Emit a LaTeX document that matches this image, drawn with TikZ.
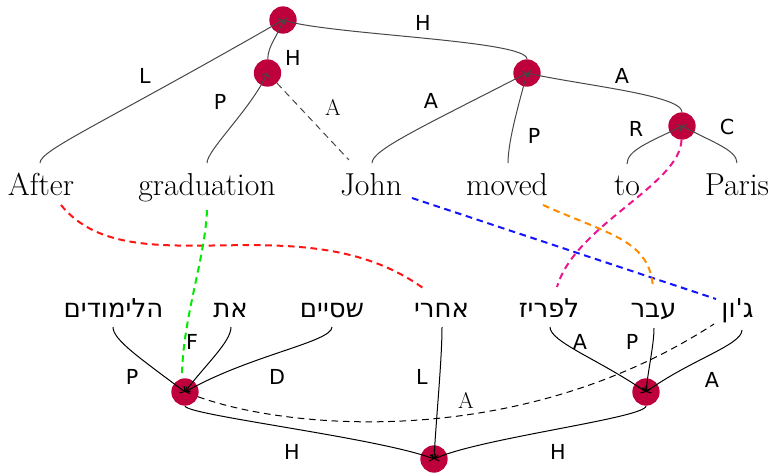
\documentclass[tikz,border=0pt]{standalone}
\usepackage{fontspec}
\usetikzlibrary{arrows.meta}
\TeXXeTstate=1
\newfontfamily\hebfont[Script=Hebrew]{DejaVu Sans}
\newfontfamily\labfont{DejaVu Sans}
\definecolor{unitcol}{RGB}{190,0,60}
\definecolor{alred}{RGB}{255,20,20}
\definecolor{algreen}{RGB}{0,235,0}
\definecolor{alblue}{RGB}{20,20,255}
\definecolor{alorange}{RGB}{255,140,0}
\definecolor{alpink}{RGB}{235,20,140}
\begin{document}
\begin{tikzpicture}[x=0.75pt,y=-0.75pt,
  unit/.style={circle, fill=unitcol, inner sep=0pt, minimum size=20.5pt},
  en/.style={font=\fontsize{23.8}{28}\selectfont, anchor=base, inner sep=0pt},
  he/.style={font=\hebfont\fontsize{19.5}{23}\selectfont, anchor=base, inner sep=0pt},
  lab/.style={font=\labfont\fontsize{15.5}{18}\selectfont, inner sep=0pt},
  rlab/.style={font=\fontsize{17}{20}\selectfont, inner sep=0pt},
  tip/.style={-{Straight Barb[length=2.5pt,width=6pt]}},
  edgeT/.style={draw=black!72, line width=0.75pt, tip},
  edgeB/.style={draw=black, line width=0.75pt, tip},
  remote/.style={draw=black!72, line width=0.75pt, dash pattern=on 5pt off 3.5pt},
  align/.style={line width=1.5pt, dash pattern=on 5pt off 3.5pt}]
\useasboundingbox (0,0) rectangle (771,472);

% ---------- top (English) units ----------
\node[unit] (root) at (283,20) {};
\node[unit] (n2) at (267.5,73) {};
\node[unit] (n3) at (527,73) {};
\node[unit] (n4) at (682,126) {};

% English words
\node[en] (after) at (41,195) {After};
\node[en] (grad) at (207,195) {graduation};
\node[en] (john) at (371,195) {John};
\node[en] (moved) at (507,195) {moved};
\node[en] (to) at (627,195) {to};
\node[en] (paris) at (737,195) {Paris};

% edge ends at English words
\coordinate (a1) at (40,163);
\coordinate (g1) at (207,163);
\coordinate (j1) at (372,163);
\coordinate (j2) at (349,160);
\coordinate (m1) at (508,163);
\coordinate (t1) at (627,164);
\coordinate (p1) at (737,163);

% ---------- bottom (Hebrew) units ----------
\node[unit] (bl) at (185,392) {};
\node[unit] (br) at (646,392) {};
\node[unit] (bot) at (434,459) {};

\node[he] (hlimudim) at (113.5,317) {\beginR הלימודים\endR};
\node[he] (et) at (230.5,317) {\beginR את\endR};
\node[he] (ssiyem) at (332,317) {\beginR שסיים\endR};
\node[he] (ahre) at (441.5,317) {\beginR אחרי\endR};
\node[he] (lparis) at (549,317) {\beginR לפריז\endR};
\node[he] (avar) at (653.5,317) {\beginR עבר\endR};
\node[he] (jon) at (737.5,317) {\beginR ג'ון\endR};

\coordinate (h1) at (113,327);
\coordinate (e1) at (231,327);
\coordinate (s1) at (332,327);
\coordinate (ah1) at (442,327);
\coordinate (lp1) at (550,327);
\coordinate (av1) at (654,328);
\coordinate (gj1) at (742,330);
\coordinate (gj2) at (714,324);

% ---------- top edges ----------
\draw[edgeT] (a1) .. controls (40,150) and (100,125) .. (root.center);
\draw[edgeT] (n2) .. controls (268,45) and (278,36) .. (root.center);
\draw[edgeT] (n3) .. controls (527,40) and (330,35) .. (root.center);
\draw[edgeT] (g1) .. controls (207,150) and (250,110) .. (n2.center);
\draw[remote] (n2) -- (j2);
\draw[edgeT] (j1) .. controls (372,150) and (420,128) .. (n3.center);
\draw[edgeT] (m1) .. controls (508,140) and (520,100) .. (n3.center);
\draw[edgeT] (n4) .. controls (682,95) and (580,85) .. (n3.center);
\draw[edgeT] (t1) .. controls (627,150) and (650,142) .. (n4.center);
\draw[edgeT] (p1) .. controls (737,150) and (712,142) .. (n4.center);

% top labels
\node[lab] (lL) at (145,76) {L};
\node[lab] (lH1) at (293,58) {H};
\node[lab] (lP1) at (220,102) {P};
\node[rlab] (lA1) at (333,107) {A};
\node[lab] (lH2) at (423,23) {H};
\node[lab] (lA2) at (431,101) {A};
\node[lab] (lP2) at (534,136) {P};
\node[lab] (lA3) at (622,76) {A};
\node[lab] (lR) at (636,129) {R};
\node[lab] (lC) at (727,127) {C};

% ---------- bottom edges ----------
\draw[edgeB] (h1) .. controls (113,340) and (140,358) .. (bl.center);
\draw[edgeB] (e1) .. controls (231,342) and (205,365) .. (bl.center);
\draw[edgeB] (s1) .. controls (332,342) and (250,355) .. (bl.center);
\draw[edgeB] (ah1) .. controls (442,360) and (436,420) .. (bot.center);
\draw[edgeB] (lp1) .. controls (550,342) and (600,360) .. (br.center);
\draw[edgeB] (av1) .. controls (654,345) and (648,370) .. (br.center);
\draw[edgeB] (gj1) .. controls (742,345) and (690,360) .. (br.center);
\draw[edgeB] (bl) .. controls (185,415) and (380,438) .. (bot.center);
\draw[edgeB] (br) .. controls (646,418) and (480,438) .. (bot.center);
\draw[remote, draw=black] (bl) .. controls (290,430) and (520,450) .. (gj2);

% bottom labels
\node[lab] (bP1) at (132,377) {P};
\node[lab] (bF) at (192,342) {F};
\node[lab] (bD) at (277,377) {D};
\node[lab] (bL) at (422,377) {L};
\node[rlab] (bA1) at (466,400) {A};
\node[lab] (bA2) at (580,342) {A};
\node[lab] (bP2) at (632,342) {P};
\node[lab] (bA3) at (712,380) {A};
\node[lab] (bH1) at (292,452) {H};
\node[lab] (bH2) at (558,452) {H};

% ---------- alignment lines ----------
\coordinate (ra) at (61,205);
\coordinate (rb) at (423,288);
\draw[align, alred] (ra) .. controls (130,290) and (300,200) .. (rb);
\coordinate (ga) at (207,210);
\coordinate (gb) at (182,378);
\draw[align, algreen] (ga) .. controls (205,260) and (182,320) .. (gb);
\coordinate (ba) at (412,198);
\coordinate (bb) at (716,299);
\draw[align, alblue] (ba) -- (bb);
\coordinate (oa) at (543,205);
\coordinate (ob) at (653,288);
\draw[align, alorange] (oa) .. controls (610,235) and (650,240) .. (ob);
\coordinate (pb) at (557,287);
\draw[align, alpink] (n4) .. controls (680,185) and (575,225) .. (pb);
\end{tikzpicture}
\end{document}
